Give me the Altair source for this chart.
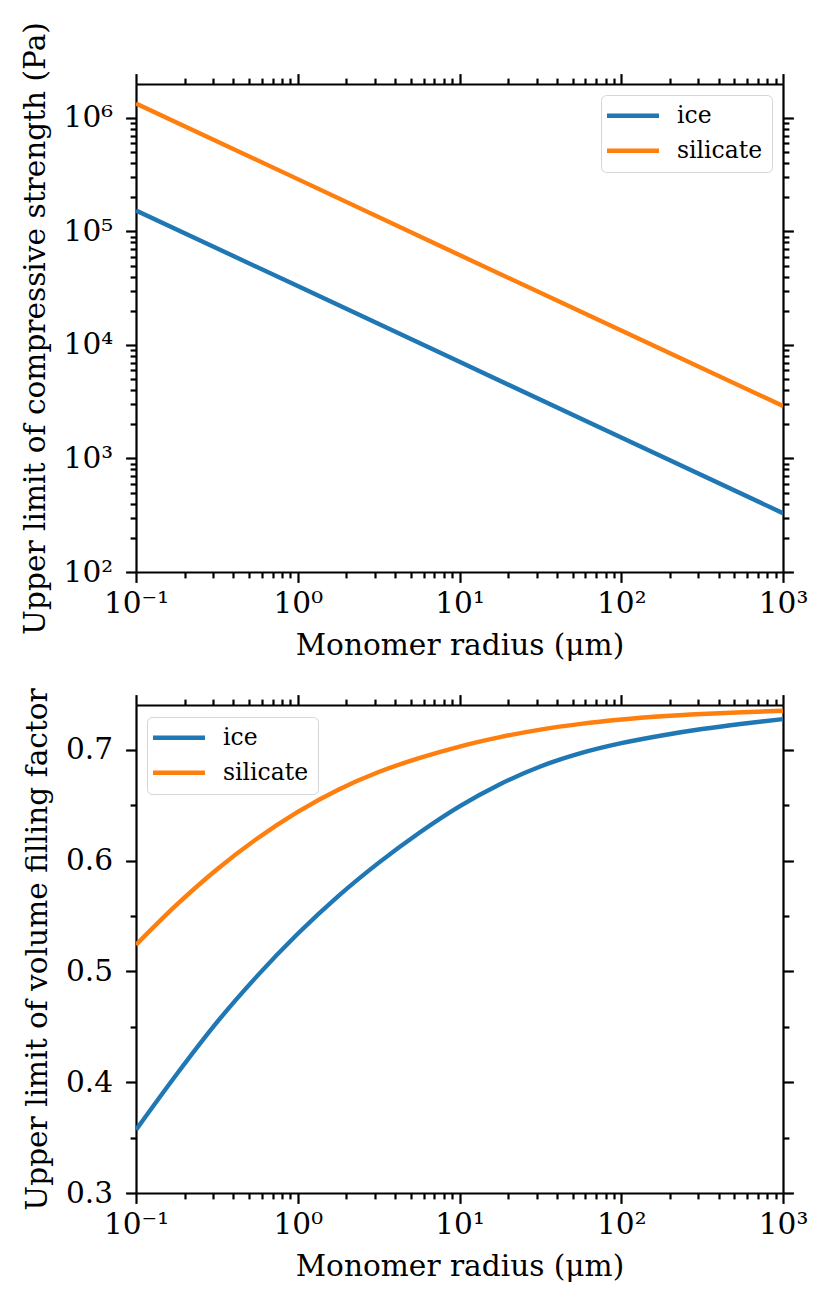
import altair as alt
import pandas as pd

# ------------------------------------------------------------------ data
materials = ["ice", "silicate"]
colors = ["#1f77b4", "#ff7f0e"]

radius_strength = [0.1, 1, 10, 100, 1000]
strength_ice = [1.53e5, 3.3e4, 7.1e3, 1.53e3, 330]
strength_silicate = [1.34e6, 2.89e5, 6.2e4, 1.34e4, 2.9e3]

radius_filling = [0.1, 0.178, 0.316, 0.562, 1, 1.78, 3.16, 5.62, 10,
                  17.8, 31.6, 56.2, 100, 178, 316, 562, 1000]
filling_ice = [0.357, 0.407, 0.454, 0.496, 0.534, 0.568, 0.598, 0.625, 0.649,
               0.669, 0.685, 0.697, 0.706, 0.713, 0.7188, 0.7236, 0.7278]
filling_silicate = [0.524, 0.560, 0.592, 0.620, 0.644, 0.664, 0.680, 0.6925, 0.703,
                    0.7115, 0.7183, 0.7235, 0.7274, 0.7303, 0.7324, 0.7340, 0.7353]

x_ticks = [0.1, 1, 10, 100, 1000]
x_tick_labels = ["10\u207b\u00b9", "10\u2070", "10\u00b9", "10\u00b2", "10\u00b3"]
x_minor = [m * d for d in [0.1, 1, 10, 100] for m in range(2, 10)]

strength_ticks = [100, 1000, 10000, 100000, 1000000]
strength_tick_labels = ["10\u00b2", "10\u00b3", "10\u2074", "10\u2075", "10\u2076"]
strength_minor = [m * d for d in [100, 1000, 10000, 100000, 1000000] for m in range(2, 10)
                  if m * d < 1.99e6]
strength_domain = [100, 1.99e6]

filling_ticks = [0.3, 0.4, 0.5, 0.6, 0.7]
filling_tick_labels = ["0.3", "0.4", "0.5", "0.6", "0.7"]
filling_minor = [0.35, 0.45, 0.55, 0.65]
filling_domain = [0.3, 0.7405]

x_title = "Monomer radius (\u03bcm)"
strength_title = "Upper limit of compressive strength (Pa)"
filling_title = "Upper limit of volume filling factor"

# ------------------------------------------------------------------ tables
def long_table(r, a, b):
    rows = [{"r": x, "v": y, "material": materials[0]} for x, y in zip(r, a)]
    rows += [{"r": x, "v": y, "material": materials[1]} for x, y in zip(r, b)]
    return pd.DataFrame(rows)

df_strength = long_table(radius_strength, strength_ice, strength_silicate)
df_filling = long_table(radius_filling, filling_ice, filling_silicate)

FONT = "DejaVu Serif"
FS = 29.6
MAJOR = 10.4
MINOR = 5.9
LW = 4.4
SPINE = 2.2


def label_expr(vals, labels):
    expr = "''"
    for v, l in reversed(list(zip(vals, labels))):
        expr = f"abs(datum.value - {v}) < {abs(v) * 1e-6} ? '{l}' : ({expr})"
    return expr


def axis(orient, values, size, labels=None, title=None, lpad=10, tpad=12, domain=False):
    kw = dict(orient=orient, values=values, tickSize=size, tickWidth=SPINE,
              tickColor="black", grid=False)
    if domain:
        kw.update(domain=True, domainColor="black", domainWidth=SPINE)
    else:
        kw.update(domain=False)
    if labels is not None:
        kw.update(labels=True, labelExpr=label_expr(values, labels),
                  labelFont=FONT, labelFontSize=FS, labelColor="black",
                  labelPadding=lpad, labelOverlap=False, labelFlush=False)
    else:
        kw.update(labels=False)
    if title is not None:
        kw.update(title=title, titleFont=FONT, titleFontSize=FS,
                  titleFontWeight="normal", titleColor="black", titlePadding=tpad)
    else:
        kw.update(title=None)
    return alt.Axis(**kw)


def panel(df, ydomain, ylog, yticks, ylabels, yminor, ytitle, lx, ly, interp):
    xs = alt.Scale(type="log", domain=[0.1, 1000], nice=False)
    if ylog:
        ys = alt.Scale(type="log", domain=ydomain, nice=False)
    else:
        ys = alt.Scale(type="linear", domain=ydomain, nice=False, zero=False)
    base = alt.Chart(df)
    lines = base.mark_line(strokeWidth=LW, interpolate=interp, clip=True).encode(
        x=alt.X("r:Q", scale=xs,
                axis=axis("bottom", x_ticks, MAJOR, x_tick_labels, x_title, lpad=7, tpad=13,
                          domain=True)),
        y=alt.Y("v:Q", scale=ys,
                axis=axis("left", yticks, MAJOR, ylabels, ytitle, lpad=13, tpad=13,
                          domain=True)),
        color=alt.Color("material:N", scale=alt.Scale(domain=materials, range=colors),
                        legend=alt.Legend(title=None, orient="none", legendX=lx, legendY=ly,
                                          symbolType="M-2.269,0H5.731", symbolSize=169,
                                          symbolStrokeWidth=LW, labelFont=FONT,
                                          labelFontSize=23.5, labelColor="black",
                                          labelOffset=43.5, rowPadding=10, padding=9,
                                          strokeColor="#d6d6d6", fillColor="white",
                                          cornerRadius=5)),
    )

    def ghost(xa, ya):
        return base.mark_line(opacity=0).encode(
            x=alt.X("r:Q", scale=xs, axis=xa),
            y=alt.Y("v:Q", scale=ys, axis=ya),
            detail="material:N",
        )

    l2 = ghost(axis("bottom", x_minor, MINOR), axis("left", yminor, MINOR))
    l3 = ghost(axis("top", x_ticks, MAJOR, domain=True), axis("right", yticks, MAJOR, domain=True))
    l4 = ghost(axis("top", x_minor, MINOR), axis("right", yminor, MINOR))
    return alt.layer(lines, l2, l3, l4).resolve_axis(x="independent", y="independent").properties(
        width=647, height=488)


top = panel(df_strength, strength_domain, True, strength_ticks, strength_tick_labels,
            strength_minor, strength_title, 465, 11, "linear")
bottom = panel(df_filling, filling_domain, False, filling_ticks, filling_tick_labels,
               filling_minor, filling_title, 11, 12, "monotone")

chart = (
    alt.vconcat(top, bottom, spacing=26)
    .resolve_scale(color="independent")
    .resolve_legend(color="independent")
    .properties(padding={"left": 11, "top": 13, "right": 5, "bottom": 5})
    .configure_view(strokeWidth=0)
    .configure_legend(labelFont=FONT)
    .configure(background="white", font=FONT)
)

chart.save("out.html", embed_options={"renderer": "svg", "actions": False})
